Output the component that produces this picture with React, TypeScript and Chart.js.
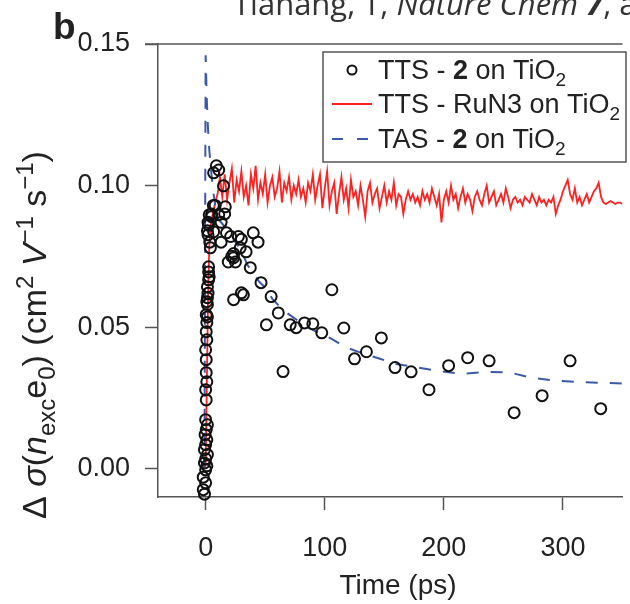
import React, { useEffect, useRef } from 'react';
import { Chart, registerables } from 'chart.js';

Chart.register(...registerables);

const FONT = '"Liberation Sans", Arial, sans-serif';

// axis ticks
const xTicks = [0, 100, 200, 300];
const yTicks = [0, 0.05, 0.1, 0.15];

// TTS - 2 on TiO2 (open circles)
const ttsTime = [
  -1, -2, 0, -2, 0, 1, -1, 0, 1.5, -1,
  0, 1, -0.5, 0.5, 1.5, 0, 0.5, 0, 1, 0.5,
  0.5, 0, 1, 0.5, 1, 0.5, 1, 1.5, 1.5, 1.5,
  2, 1.5, 2.5, 3, 2.5, 2.5, 4, 3.5, 2, 1.5,
  2, 3, 5, 6.5, 2.5, 5, 6.7, 8, 6.7, 9,
  11, 15, 16.5, 16, 13, 11, 13, 17.5, 21, 27.5,
  40, 44, 30, 29, 34, 23.5, 22, 19, 25, 23.5,
  37.5, 46.5, 55, 30, 31.7, 23.5, 61, 51, 71, 76,
  83, 90, 97.5, 65, 106, 116, 125, 135, 147.5, 159,
  172.5, 187.5, 204, 220, 238, 259, 282.5, 306, 331.7,
];
const ttsValue = [
  -0.009, -0.0074, -0.005, -0.003, -0.0004, 0.001, 0.002, 0.0035, 0.005, 0.0067,
  0.0085, 0.0102, 0.012, 0.0138, 0.0155, 0.0173, 0.0243, 0.0279, 0.0307, 0.0339,
  0.0385, 0.042, 0.0455, 0.0484, 0.0516, 0.0544, 0.059, 0.0536, 0.058, 0.0604,
  0.062, 0.0642, 0.0667, 0.0678, 0.0695, 0.0713, 0.078, 0.08, 0.0826, 0.084,
  0.087, 0.0897, 0.09, 0.093, 0.086, 0.089, 0.0837, 0.093, 0.1045, 0.107,
  0.1055, 0.0999, 0.0925, 0.09, 0.087, 0.0897, 0.08, 0.0833, 0.082, 0.082,
  0.0833, 0.08, 0.081, 0.078, 0.0766, 0.076, 0.075, 0.073, 0.073, 0.0745,
  0.071, 0.0657, 0.0608, 0.0621, 0.0614, 0.0597, 0.055, 0.0508, 0.0508, 0.0498,
  0.0515, 0.0512, 0.048, 0.0343, 0.0632, 0.0497, 0.0388, 0.0413, 0.0462, 0.0357,
  0.0342, 0.0279, 0.0364, 0.0392, 0.0381, 0.0198, 0.0258, 0.0381, 0.0212,
];

// TTS - RuN3 on TiO2 (red line): rising edge, then plateau sampled every 2 ps from 10 ps
const runRiseTime = [-4, 0, 1, 2, 3, 4, 5, 6, 7, 8];
const runRiseValue = [0, 0.001, 0.03, 0.06, 0.078, 0.085, 0.088, 0.09, 0.092, 0.094];
const runPlateauStart = 10;
const runPlateauStep = 2;
const runPlateauValue = [
  0.097, 0.103, 0.096, 0.104, 0.095, 0.101, 0.106, 0.094, 0.102, 0.098,
  0.105, 0.096, 0.1, 0.093, 0.104, 0.099, 0.107, 0.095, 0.101, 0.097,
  0.104, 0.094, 0.1, 0.103, 0.096, 0.099, 0.105, 0.094, 0.101, 0.098,
  0.103, 0.095, 0.1, 0.097, 0.102, 0.096, 0.099, 0.094, 0.101, 0.098,
  0.104, 0.095, 0.1,
  0.104, 0.092, 0.099, 0.105, 0.093, 0.098, 0.101, 0.09, 0.097, 0.103,
  0.095, 0.099, 0.092, 0.102, 0.096, 0.098, 0.093, 0.1, 0.095, 0.089,
  0.098, 0.101, 0.094, 0.097, 0.099, 0.092, 0.096, 0.1, 0.094, 0.098,
  0.095, 0.101, 0.093, 0.097, 0.096, 0.09, 0.095, 0.098,
  0.095, 0.097, 0.094, 0.096, 0.093, 0.098, 0.095, 0.097, 0.094, 0.099,
  0.096, 0.093, 0.097, 0.087, 0.095,
  0.098, 0.094, 0.1, 0.095, 0.097, 0.092, 0.096, 0.099, 0.094, 0.097,
  0.095, 0.091, 0.096, 0.098, 0.095, 0.093, 0.097, 0.1, 0.094, 0.096,
  0.098, 0.093, 0.095, 0.097, 0.094, 0.099, 0.096, 0.092, 0.095,
  0.096, 0.094, 0.095, 0.093, 0.096, 0.095, 0.094, 0.097, 0.095, 0.093,
  0.096, 0.094, 0.095, 0.093, 0.095, 0.094, 0.096, 0.09, 0.093, 0.095,
  0.098,
  0.1, 0.102, 0.097, 0.095, 0.099, 0.094, 0.096, 0.093, 0.095, 0.097,
  0.094, 0.096, 0.098, 0.099, 0.101, 0.096, 0.094,
  0.0935, 0.094, 0.0945, 0.094, 0.0935, 0.094, 0.094, 0.0935, 0.094, 0.094,
];

// TAS - 2 on TiO2 (blue dashed)
const tasTime = [
  -1, 0, 1, 2, 3, 4, 6, 8, 11, 15,
  20, 25, 30, 35, 40, 45, 50, 56, 65, 75,
  85, 95, 105, 117, 130, 145, 160, 175, 195, 215,
  235, 255, 275, 297, 318, 345, 355,
];
const tasValue = [
  0, 0.146, 0.13, 0.12, 0.113, 0.108, 0.099, 0.093, 0.088, 0.086,
  0.084, 0.08, 0.077, 0.072, 0.069, 0.066, 0.064, 0.06, 0.056, 0.053,
  0.05, 0.048, 0.046, 0.043, 0.041, 0.039, 0.037, 0.036, 0.0345, 0.0335,
  0.0342, 0.034, 0.032, 0.031, 0.0305, 0.0302, 0.03,
];

type Piece = { text: string; kind: 'n' | 'b' | 'i' | 'bi' | 'sub' | 'sup' };

const legendRows: Piece[][] = [
  [{ text: 'TTS - ', kind: 'n' }, { text: '2', kind: 'b' }, { text: ' on TiO', kind: 'n' }, { text: '2', kind: 'sub' }],
  [{ text: 'TTS - RuN3 on TiO', kind: 'n' }, { text: '2', kind: 'sub' }],
  [{ text: 'TAS - ', kind: 'n' }, { text: '2', kind: 'b' }, { text: ' on TiO', kind: 'n' }, { text: '2', kind: 'sub' }],
];

const yTitle: Piece[] = [
  { text: 'Δ ', kind: 'n' }, { text: 'σ', kind: 'i' }, { text: '(', kind: 'n' },
  { text: 'n', kind: 'i' }, { text: 'exc', kind: 'sub' }, { text: 'e', kind: 'n' },
  { text: '0', kind: 'sub' }, { text: ')', kind: 'n' }, { text: ' (cm', kind: 'n' },
  { text: '2', kind: 'sup' }, { text: ' ', kind: 'n' }, { text: 'V', kind: 'i' },
  { text: '−1', kind: 'sup' }, { text: ' s', kind: 'n' }, { text: '−1', kind: 'sup' },
  { text: ')', kind: 'n' },
];

const xTitle = 'Time (ps)';
const panelLabel = 'b';
const citation: { text: string; style: string }[] = [
  { text: 'Tianang, T, ', style: '' },
  { text: 'Nature Chem ', style: 'italic ' },
  { text: '7', style: 'italic bold ' },
  { text: ', a', style: '' },
];

function pieceFont(kind: Piece['kind'], size: number, family: string) {
  const small = Math.round(size * 0.7);
  switch (kind) {
    case 'b': return `bold ${size}px ${family}`;
    case 'i': return `italic ${size}px ${family}`;
    case 'bi': return `italic bold ${size}px ${family}`;
    case 'sub':
    case 'sup': return `${small}px ${family}`;
    default: return `${size}px ${family}`;
  }
}
function pieceDy(kind: Piece['kind'], size: number) {
  if (kind === 'sub') return size * 0.27;
  if (kind === 'sup') return -size * 0.38;
  return 0;
}
function measure(ctx: CanvasRenderingContext2D, pieces: Piece[], size: number) {
  let w = 0;
  for (const p of pieces) {
    ctx.font = pieceFont(p.kind, size, FONT);
    w += ctx.measureText(p.text).width;
  }
  return w;
}
function drawPieces(ctx: CanvasRenderingContext2D, pieces: Piece[], x: number, y: number, size: number) {
  let cx = x;
  for (const p of pieces) {
    ctx.font = pieceFont(p.kind, size, FONT);
    ctx.fillText(p.text, cx, y + pieceDy(p.kind, size));
    cx += ctx.measureText(p.text).width;
  }
}

const decorPlugin = {
  id: 'decor',
  afterDraw(chart: any) {
    const ctx: CanvasRenderingContext2D = chart.ctx;
    const area = chart.chartArea;
    ctx.save();
    // top frame line (continues the 0.15 tick)
    ctx.strokeStyle = '#555';
    ctx.lineWidth = 1.5;
    ctx.beginPath();
    ctx.moveTo(area.left - 13, area.top);
    ctx.lineTo(area.right, area.top);
    ctx.stroke();

    ctx.fillStyle = '#222';
    ctx.textAlign = 'left';
    ctx.textBaseline = 'alphabetic';

    // panel label
    ctx.font = `bold 37px ${FONT}`;
    ctx.fillText(panelLabel, 53, 39);

    // citation (cut at top)
    ctx.fillStyle = '#333';
    let cx = 233;
    for (const c of citation) {
      ctx.font = `${c.style}31px "Open Sans", sans-serif`;
      ctx.fillText(c.text, cx, 15);
      cx += ctx.measureText(c.text).width;
    }

    // legend
    const lx = 323, ly = 52, lw = 303, lh = 110;
    ctx.fillStyle = '#fff';
    ctx.fillRect(lx, ly, lw, lh);
    ctx.strokeStyle = '#555';
    ctx.lineWidth = 1.5;
    ctx.strokeRect(lx, ly, lw, lh);
    const rowY = [70, 104, 139];
    ctx.strokeStyle = '#111';
    ctx.lineWidth = 2;
    ctx.beginPath();
    ctx.arc(352, rowY[0], 4.5, 0, Math.PI * 2);
    ctx.stroke();
    ctx.strokeStyle = '#ff2020';
    ctx.lineWidth = 1.8;
    ctx.beginPath();
    ctx.moveTo(332, rowY[1]);
    ctx.lineTo(372, rowY[1]);
    ctx.stroke();
    ctx.strokeStyle = '#3c5aa8';
    ctx.lineWidth = 2;
    ctx.setLineDash([11, 14]);
    ctx.beginPath();
    ctx.moveTo(332, rowY[2]);
    ctx.lineTo(372, rowY[2]);
    ctx.stroke();
    ctx.setLineDash([]);
    ctx.fillStyle = '#222';
    legendRows.forEach((row, i) => drawPieces(ctx, row, 378, rowY[i] + 9, 27));

    // x title
    ctx.font = `28px ${FONT}`;
    ctx.textAlign = 'center';
    ctx.fillText(xTitle, 398, 594);
    ctx.textAlign = 'left';

    // y title (rotated)
    const ySize = 34;
    const w = measure(ctx, yTitle, ySize);
    ctx.translate(34, 335);
    ctx.rotate(-Math.PI / 2);
    drawPieces(ctx, yTitle, -w / 2, 12, ySize);
    ctx.restore();
  },
};

export default function App() {
  const ref = useRef<HTMLCanvasElement | null>(null);
  useEffect(() => {
    if (!ref.current) return;
    const tts = ttsTime.map((t, i) => ({ x: t, y: ttsValue[i] }));
    const run = [
      ...runRiseTime.map((t, i) => ({ x: t, y: runRiseValue[i] })),
      ...runPlateauValue.map((v, i) => ({ x: runPlateauStart + i * runPlateauStep, y: v })),
    ];
    const tas = tasTime.map((t, i) => ({ x: t, y: tasValue[i] }));
    const chart = new Chart(ref.current, {
      type: 'scatter',
      data: {
        datasets: [
          {
            label: 'TTS - RuN3 on TiO2',
            data: run,
            showLine: true,
            borderColor: '#ff2020',
            borderWidth: 1.8,
            pointRadius: 0,
            tension: 0,
            order: 3,
          },
          {
            label: 'TAS - 2 on TiO2',
            data: tas,
            showLine: true,
            borderColor: '#3c5aa8',
            borderWidth: 2,
            borderDash: [12, 12],
            pointRadius: 0,
            tension: 0,
            order: 2,
          },
          {
            label: 'TTS - 2 on TiO2',
            data: tts,
            showLine: false,
            pointRadius: 5.5,
            pointBorderWidth: 2,
            pointBorderColor: '#111',
            pointBackgroundColor: 'rgba(0,0,0,0)',
            clip: false,
            order: 1,
          } as any,
        ],
      },
      options: {
        animation: false,
        responsive: false,
        maintainAspectRatio: false,
        layout: { padding: { top: 44, left: 0, right: 0, bottom: 0 } },
        plugins: {
          legend: { display: false },
          tooltip: { enabled: false },
          title: { display: false },
        },
        scales: {
          x: {
            type: 'linear',
            min: -40,
            max: 350,
            afterBuildTicks: (s: any) => { s.ticks = xTicks.map((v) => ({ value: v })); },
            afterFit: (s: any) => { s.height = 107; },
            ticks: {
              font: { family: FONT, size: 27 },
              color: '#222',
              padding: 22,
              maxRotation: 0,
              callback: (v: any) => String(v),
            },
            grid: { drawOnChartArea: false, drawTicks: true, tickLength: 13, tickColor: '#555', tickWidth: 1.5 },
            border: { display: true, color: '#555', width: 1.5 },
          },
          y: {
            type: 'linear',
            min: -0.01,
            max: 0.15,
            afterBuildTicks: (s: any) => { s.ticks = yTicks.map((v) => ({ value: v })); },
            afterFit: (s: any) => { s.width = 158; },
            ticks: {
              font: { family: FONT, size: 27 },
              color: '#222',
              padding: 15,
              callback: (v: any) => Number(v).toFixed(2),
            },
            grid: { drawOnChartArea: false, drawTicks: true, tickLength: 13, tickColor: '#555', tickWidth: 1.5 },
            border: { display: true, color: '#555', width: 1.5 },
          },
        },
      } as any,
      plugins: [decorPlugin],
    });
    return () => chart.destroy();
  }, []);
  return (
    <div style={{ position: 'fixed', left: 0, top: 0, width: 630, height: 604, background: '#fff' }}>
      <canvas ref={ref} width={630} height={604} style={{ width: 630, height: 604, display: 'block' }} />
    </div>
  );
}
